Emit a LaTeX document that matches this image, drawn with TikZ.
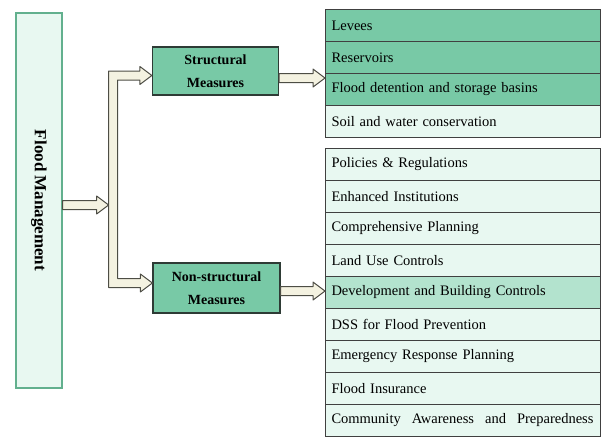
\documentclass[tikz,border=0pt]{standalone}
\usepackage{fontspec}
\setmainfont{Liberation Serif}
\usetikzlibrary{calc,positioning}
\definecolor{mintdark}{HTML}{78C9A6}
\definecolor{mintmid}{HTML}{B3E3CE}
\definecolor{mintpale}{HTML}{E8F8F1}
\definecolor{fmline}{HTML}{62B08E}
\definecolor{boxline}{HTML}{2E3B35}
\definecolor{arrfill}{HTML}{F4F2E1}
\definecolor{arrline}{HTML}{4D4D45}

% hollow block arrow, left to right
\newcommand{\harrow}[2]{%
  \draw[blockarr] ($(#1)+(0,-4.5)$) -- ($(#2)+(-12,-4.5)$) -- ($(#2)+(-12,-9)$) -- (#2)
    -- ($(#2)+(-12,9)$) -- ($(#2)+(-12,4.5)$) -- ($(#1)+(0,4.5)$) -- cycle;}

\begin{document}
\begin{tikzpicture}[
  x=1pt, y=-1pt,
  font=\fontsize{14.5}{16}\selectfont,
  fmbox/.style={draw=fmline, fill=mintpale, line width=1.2pt, minimum width=46pt, minimum height=375pt,
    font=\fontsize{17}{18}\selectfont\bfseries},
  measure/.style={draw=boxline, fill=mintdark, line width=1.2pt, minimum width=126pt, minimum height=48pt,
    align=center, font=\fontsize{14}{23}\selectfont\bfseries},
  row/.style={draw=black!75, line width=1pt, anchor=north west, minimum width=275pt, minimum height=32pt,
    text width=263pt, inner xsep=6pt, inner ysep=0pt, align=left},
  blockarr/.style={draw=arrline, fill=arrfill, line width=1pt, line join=round}
]
\useasboundingbox (0,0) rectangle (602,437);

\node[fmbox] (fm) at (39,200.5) {\rotatebox{-90}{Flood Management}};
\node[measure] (sm) at (215.5,71) {Structural\\Measures};
\node[measure, minimum width=127pt, minimum height=50pt] (nm) at (216.5,288) {Non-structural\\Measures};

\foreach \txt/\col [count=\i] in {Levees/mintdark, Reservoirs/mintdark,
    Flood detention and storage basins/mintdark, Soil and water conservation/mintpale}
  \node[row, fill=\col] (s\i) at (325,{9+32*(\i-1)}) {\txt};

\foreach \txt/\col [count=\i] in {Policies \& Regulations/mintpale, Enhanced Institutions/mintpale,
    Comprehensive Planning/mintpale, Land Use Controls/mintpale,
    Development and Building Controls/mintmid, DSS for Flood Prevention/mintpale,
    Emergency Response Planning/mintpale, Flood Insurance/mintpale,
    {\makebox[262pt]{Community\hfill Awareness\hfill and\hfill Preparedness}}/mintpale}
  \node[row, fill=\col] (n\i) at (325,{148+32*(\i-1)}) {\txt};

% arrows
\coordinate (fmout) at ($(fm.east)+(0,4.5)$);
\coordinate (bar) at ($(fmout)+(46,0)$);
\harrow{fmout}{bar}

\coordinate (tt) at ($(sm.west)+(0,4.5)$);
\coordinate (tb) at ($(nm.west)+(0,-5)$);
\draw[blockarr] ($(bar |- tt)+(0,-4.5)$) -- ($(tt)+(-12,-4.5)$) -- ($(tt)+(-12,-9)$) -- (tt)
  -- ($(tt)+(-12,9)$) -- ($(tt)+(-12,4.5)$) -- ($(bar |- tt)+(9,4.5)$)
  -- ($(bar |- tb)+(9,-4.5)$) -- ($(tb)+(-12,-4.5)$) -- ($(tb)+(-12,-9)$) -- (tb)
  -- ($(tb)+(-12,9)$) -- ($(tb)+(-12,4.5)$) -- ($(bar |- tb)+(0,4.5)$) -- cycle;

\coordinate (sout) at ($(sm.east)+(0,7)$);
\coordinate (sin) at (s1.west |- sout);
\harrow{sout}{sin}

\coordinate (nout) at ($(nm.east)+(0,3)$);
\coordinate (nin) at (n1.west |- nout);
\harrow{nout}{nin}

\end{tikzpicture}
\end{document}
